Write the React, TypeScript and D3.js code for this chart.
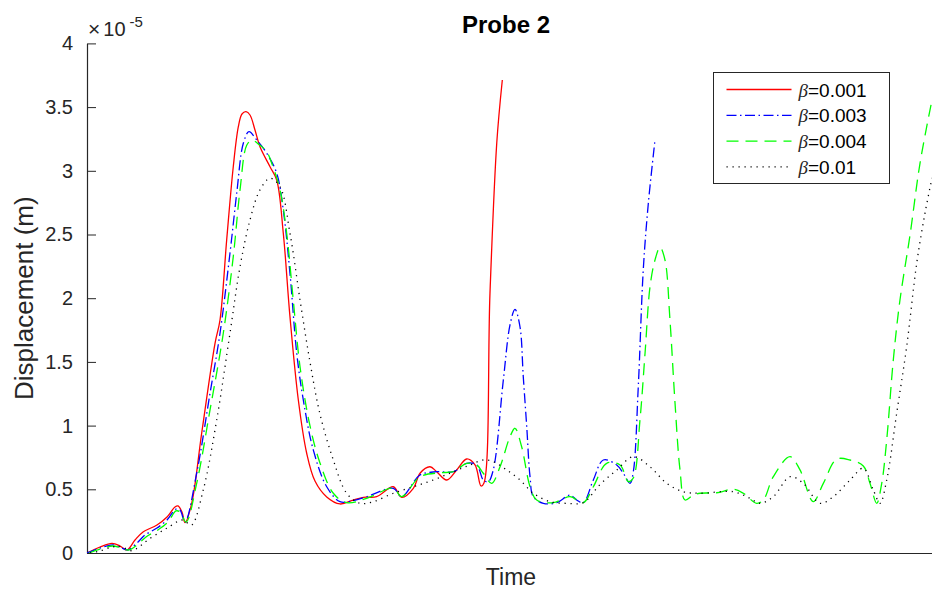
import React, { useEffect, useRef } from 'react';
import * as d3 from 'd3';

// displacement in units of 1e-5 m, time in % of the record
const tRed = [0,1.54,2.96,3.91,4.73,5.68,6.63,8.28,9.47,10.41,10.77,11.24,11.60,12.39,13.57,15.15,15.74,16.53,17.31,17.91,18.34,18.82,19.29,19.88,20.47,21.66,22.45,23.23,24.02,25.01,26.0,26.98,28.37,29.94,31.51,32.7,34.28,36.25,37.24,38.62,39.41,40.59,41.38,42.57,43.75,44.93,45.92,46.63,46.98,47.69,48.49,49.15];
const dRed = [0,0.047,0.075,0.055,0.024,0.102,0.165,0.22,0.283,0.361,0.369,0.322,0.238,0.39,0.94,1.646,1.829,2.457,3.032,3.346,3.446,3.464,3.438,3.32,3.189,3.032,2.928,2.51,1.855,1.201,0.783,0.565,0.44,0.385,0.416,0.437,0.442,0.52,0.437,0.508,0.626,0.677,0.638,0.573,0.652,0.738,0.691,0.526,0.55,2.04,3.216,3.713];

const tBlue = [0,1.54,3.08,3.91,4.85,5.92,6.86,8.28,9.47,10.53,11.01,11.60,12.98,14.56,15.74,16.92,17.72,18.5,19.17,20.08,21.27,22.45,23.23,24.02,24.82,25.6,26.78,28.37,29.94,31.51,33.1,36.25,37.24,39.41,41.38,43.35,44.93,46.12,46.9,47.49,48.08,49.27,50.06,50.65,51.24,51.63,52.04,52.43,52.82,54.0,55.59,57.16,57.95,58.73,59.92,61.1,62.69,63.47,64.26,64.65,65.24,65.83,66.43,67.22];
const dBlue = [0,0.039,0.063,0.047,0.024,0.079,0.141,0.196,0.259,0.345,0.338,0.243,0.626,1.254,1.725,2.353,2.824,3.216,3.307,3.242,3.138,2.981,2.692,2.196,1.568,1.201,0.809,0.52,0.403,0.411,0.442,0.508,0.442,0.612,0.638,0.638,0.704,0.691,0.573,0.56,0.652,1.358,1.79,1.913,1.776,1.384,0.991,0.599,0.442,0.39,0.395,0.455,0.416,0.395,0.573,0.73,0.691,0.626,0.547,0.636,1.305,2.222,2.745,3.242];

const tGreen = [0.24,1.54,3.08,4.02,4.97,5.92,6.98,8.4,9.59,10.53,11.01,11.72,12.98,14.56,16.13,17.31,18.11,18.9,19.5,20.47,21.27,21.86,22.84,23.63,24.41,25.21,26.39,27.57,29.15,30.73,33.1,36.25,37.24,39.41,41.78,43.35,44.93,46.12,46.9,47.89,48.88,50.06,50.65,51.44,52.43,53.22,55.18,57.16,58.73,59.92,61.5,63.08,64.06,64.65,65.44,66.04,66.63,67.22,67.81,68.4,68.99,69.59,70.18,70.77,71.75,72.54,74.52,76.49,77.67,79.25,80.04,81.22,83.2,84.38,85.95,87.14,88.72,90.3,91.87,92.66,93.46,94.05,94.64,95.42,96.21,97.4,98.58,100];
const dGreen = [0,0.031,0.055,0.039,0.024,0.063,0.126,0.181,0.243,0.33,0.322,0.243,0.547,1.123,1.725,2.326,2.85,3.2,3.24,3.2,3.15,3.059,2.85,2.51,1.986,1.462,0.997,0.707,0.469,0.395,0.429,0.508,0.442,0.599,0.63,0.638,0.704,0.691,0.626,0.547,0.677,0.913,0.979,0.834,0.52,0.416,0.395,0.442,0.395,0.52,0.704,0.691,0.56,0.589,1.044,1.568,2.09,2.3,2.4,2.3,1.829,1.175,0.652,0.416,0.455,0.469,0.473,0.5,0.469,0.39,0.416,0.599,0.756,0.652,0.403,0.547,0.736,0.73,0.683,0.547,0.39,0.547,0.887,1.515,1.986,2.496,3.059,3.556];

const tBlack = [0.36,1.54,3.11,4.14,5.29,7.46,9.43,11.21,11.72,12.39,13.76,15.35,16.92,18.11,19.29,20.47,21.66,22.84,24.02,25.21,26.39,27.57,29.15,30.73,32.31,33.88,36.25,38.62,40.98,43.35,45.33,46.9,48.08,49.67,51.24,52.82,54.79,56.77,58.73,60.71,62.69,64.65,66.63,68.6,70.57,72.54,76.49,78.46,79.64,81.22,83.2,84.77,86.75,88.32,90.3,91.87,93.05,93.85,94.64,95.82,97.0,98.19,99.17,100];
const dBlack = [0,0.016,0.049,0.047,0.018,0.115,0.194,0.259,0.243,0.22,0.495,1.044,1.725,2.247,2.614,2.85,2.941,2.875,2.51,1.986,1.499,1.091,0.73,0.469,0.39,0.403,0.469,0.52,0.573,0.638,0.691,0.73,0.717,0.652,0.573,0.469,0.403,0.39,0.395,0.538,0.652,0.756,0.677,0.547,0.481,0.469,0.481,0.429,0.39,0.442,0.599,0.547,0.39,0.442,0.573,0.665,0.495,0.39,0.573,1.097,1.62,2.274,2.667,2.944];

const betaLabels = ['0.001', '0.003', '0.004', '0.01'];
const yTicks = [0, 0.5, 1, 1.5, 2, 2.5, 3, 3.5, 4];

const FONT = '"Liberation Sans", Arial, Helvetica, sans-serif';
const AX = '#262626';

const App = () => {
  const svgRef = useRef<SVGSVGElement>(null);

  useEffect(() => {
    const svg = d3.select(svgRef.current);
    svg.selectAll('*').remove();

    const left = 87, right = 932, top = 43.4, bottom = 553;
    const x = d3.scaleLinear().domain([0, 100]).range([left, right]);
    const y = d3.scaleLinear().domain([0, 4]).range([bottom, top]);

    const series = [
      { t: tRed, d: dRed, color: '#ff0000', dash: null },
      { t: tBlue, d: dBlue, color: '#0000ff', dash: '10,3.5,1.5,3.5' },
      { t: tGreen, d: dGreen, color: '#00ff00', dash: '12,7' },
      { t: tBlack, d: dBlack, color: '#000000', dash: '1.2,4.8' },
    ];

    svg.append('defs').append('clipPath').attr('id', 'plotClip')
      .append('rect').attr('x', left).attr('y', top - 2)
      .attr('width', right - left).attr('height', bottom - top + 2);

    // axes
    const yAxis = svg.append('g')
      .attr('transform', `translate(${left},0)`)
      .call(d3.axisLeft(y).tickValues(yTicks).tickSizeInner(-9).tickSizeOuter(0).tickPadding(14)
        .tickFormat((d: any) => String(d)));
    yAxis.select('.domain').attr('stroke', AX).attr('stroke-width', 1.2);
    yAxis.selectAll('.tick line').attr('stroke', AX).attr('stroke-width', 1);
    yAxis.selectAll('.tick text')
      .attr('fill', AX).style('font-size', '20px').style('font-family', FONT);

    const xAxis = svg.append('g')
      .attr('transform', `translate(0,${bottom})`)
      .call(d3.axisBottom(x).tickValues([]).tickSizeOuter(0));
    xAxis.select('.domain').attr('stroke', AX).attr('stroke-width', 1.2);

    // curves
    const plot = svg.append('g').attr('clip-path', 'url(#plotClip)');
    const gen = d3.line().curve(d3.curveCatmullRom.alpha(0.5));
    series.forEach((s) => {
      const pts = s.t.map((t, i) => [x(t), y(s.d[i])] as [number, number]);
      const p = plot.append('path')
        .attr('d', gen(pts))
        .attr('fill', 'none')
        .attr('stroke', s.color)
        .attr('stroke-width', 1.3);
      if (s.dash) p.attr('stroke-dasharray', s.dash);
    });

    // exponent label
    const ex = svg.append('text')
      .attr('x', 88).attr('y', 36)
      .attr('fill', AX)
      .style('font-family', FONT).style('font-size', '20px');
    ex.append('tspan').text('\u00d7').style('font-size', '21px').style('font-weight', '300');
    ex.append('tspan').text('10').attr('dx', 3);
    ex.append('tspan').text('-5').attr('dx', 4).attr('dy', -9).style('font-size', '15px');

    // title and labels
    svg.append('text')
      .attr('x', 506).attr('y', 33)
      .attr('text-anchor', 'middle')
      .style('font-family', FONT).style('font-size', '24px').style('font-weight', 'bold')
      .attr('fill', '#000')
      .text('Probe 2');

    svg.append('text')
      .attr('x', 511).attr('y', 585)
      .attr('text-anchor', 'middle')
      .style('font-family', FONT).style('font-size', '23px')
      .attr('fill', AX)
      .text('Time');

    svg.append('text')
      .attr('transform', `translate(33,${(top + bottom) / 2}) rotate(-90)`)
      .attr('text-anchor', 'middle')
      .style('font-family', FONT).style('font-size', '26px')
      .attr('fill', AX)
      .text('Displacement (m)');

    // legend
    const lg = svg.append('g').attr('transform', 'translate(713.5,72.5)');
    lg.append('rect')
      .attr('width', 176).attr('height', 111)
      .attr('fill', '#fff').attr('stroke', AX).attr('stroke-width', 1);
    series.forEach((s, i) => {
      const ry = 17 + i * 25.8;
      const l = lg.append('line')
        .attr('x1', 13).attr('x2', 78).attr('y1', ry).attr('y2', ry)
        .attr('stroke', s.color).attr('stroke-width', 1.3);
      if (s.dash) l.attr('stroke-dasharray', s.dash);
      const tx = lg.append('text')
        .attr('x', 85).attr('y', ry + 7)
        .attr('fill', '#000')
        .style('font-family', FONT).style('font-size', '19px');
      tx.append('tspan').text('\u03b2')
        .style('font-style', 'italic').style('font-family', '"Liberation Serif", serif')
        .attr('fill', AX);
      tx.append('tspan').text('=' + betaLabels[i]);
    });
  }, []);

  return (
    <div>
      <svg ref={svgRef} width={932} height={592}
        style={{ position: 'absolute', left: 0, top: 0, background: '#fff' }} />
    </div>
  );
};

export default App;
